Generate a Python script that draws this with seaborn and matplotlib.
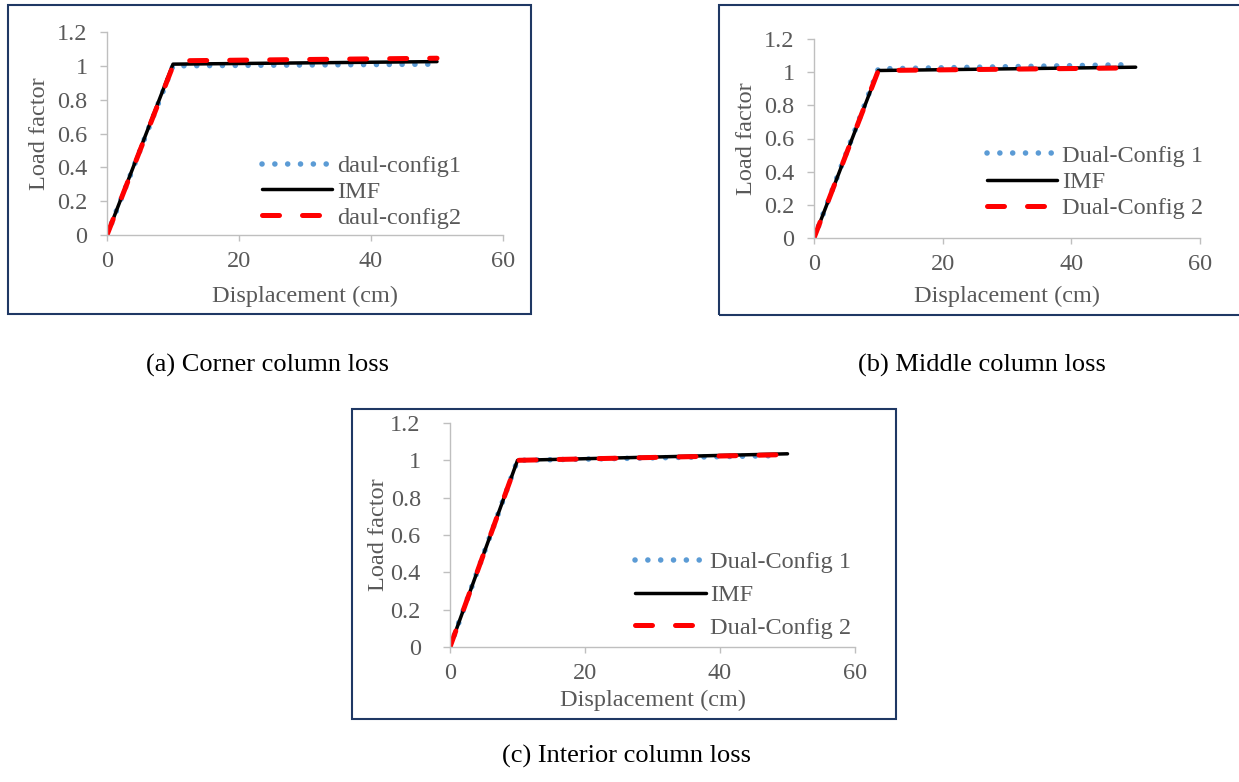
import numpy as np
import pandas as pd
import seaborn as sns
import matplotlib
import matplotlib.pyplot as plt
from matplotlib.patches import Rectangle
matplotlib.use('Agg')

# Panel (a) - corner column loss
a_cfg1_x = [0, 10, 50]
a_cfg1_y = [0, 1.0, 1.01]
a_imf_x = [0, 10, 50]
a_imf_y = [0, 1.01, 1.025]
a_cfg2_x = [0, 10, 11, 50]
a_cfg2_y = [0, 1.0, 1.03, 1.045]

# Panel (b) - middle column loss
b_cfg1_x = [0, 10, 49]
b_cfg1_y = [0, 1.02, 1.045]
b_imf_x = [0, 10, 50]
b_imf_y = [0, 1.01, 1.03]
b_cfg2_x = [0, 10, 48]
b_cfg2_y = [0, 1.01, 1.025]

# Panel (c) - interior column loss
c_cfg1_x = [0, 10, 48]
c_cfg1_y = [0, 1.0, 1.025]
c_imf_x = [0, 10, 50]
c_imf_y = [0, 1.0, 1.035]
c_cfg2_x = [0, 10, 49]
c_cfg2_y = [0, 1.0, 1.03]

labels_a = ["daul-config1", "IMF", "daul-config2"]
labels_bc = ["Dual-Config 1", "IMF", "Dual-Config 2"]
captions = ["(a) Corner column loss", "(b) Middle column loss", "(c) Interior column loss"]

x_ticks = [0, 20, 40, 60]
y_ticks = [0, 0.2, 0.4, 0.6, 0.8, 1, 1.2]
y_tick_labels = ["0", "0.2", "0.4", "0.6", "0.8", "1", "1.2"]

sns.set_style("ticks")
plt.rcParams['font.family'] = ['Liberation Serif', 'DejaVu Serif']

W, H = 1239, 782
fig = plt.figure(figsize=(W / 100, H / 100), dpi=100)

GREY_TXT = "#595959"
GREY_AX = "#bfbfbf"
NAVY = "#1f3864"
FS = 17.5


def px_axes(left, bottom, right, top):
    # pixel box (origin top-left) -> figure fraction rect
    return [left / W, 1 - bottom / H, (right - left) / W, (bottom - top) / H]


def draw_panel(rect, series, labels, leg_anchor, leg_spacing, ytick_pad, xlab_off, ylab_off):
    ax = fig.add_axes(rect)
    styles = [
        dict(color="#5b9bd5", lw=4.0, linestyle=(0, (0.01, 2.3)),
             dash_capstyle="round", solid_capstyle="round"),
        dict(color="black", lw=2.5, linestyle="-", solid_capstyle="round"),
        dict(color="#ff0000", lw=3.6, linestyle=(0, (3.4, 4.6)),
             dash_capstyle="round", solid_capstyle="round"),
    ]
    for (xs, ys), lab, st in zip(series, labels, styles):
        df = pd.DataFrame({"x": xs, "y": ys})
        sns.lineplot(data=df, x="x", y="y", ax=ax, label=lab, **st)

    ax.set_xlim(0, 60)
    ax.set_ylim(0, 1.2)
    ax.set_xticks(x_ticks)
    ax.set_yticks(y_ticks)
    ax.set_yticklabels(y_tick_labels)
    sns.despine(ax=ax)
    for s in ["left", "bottom"]:
        ax.spines[s].set_color(GREY_AX)
        ax.spines[s].set_linewidth(1.0)
    ax.tick_params(axis="x", colors=GREY_AX, labelcolor=GREY_TXT, labelsize=FS,
                   length=4.5, width=1.0, pad=7)
    ax.tick_params(axis="y", colors=GREY_AX, labelcolor=GREY_TXT, labelsize=FS,
                   length=5, width=1.0, pad=ytick_pad)
    ax.set_xlabel("Displacement (cm)", fontsize=FS, color=GREY_TXT)
    ax.set_ylabel("Load factor", fontsize=FS, color=GREY_TXT)

    wpx = rect[2] * W
    hpx = rect[3] * H
    ax.xaxis.set_label_coords(0.5, -xlab_off / hpx)
    ax.yaxis.set_label_coords(-ylab_off / wpx, 0.5)

    ax.legend(loc="center left", bbox_to_anchor=leg_anchor, frameon=False,
              fontsize=FS, handlelength=2.9, handletextpad=0.2,
              labelspacing=leg_spacing, borderpad=0, borderaxespad=0,
              labelcolor=GREY_TXT)
    return ax


# (a)
draw_panel(px_axes(107, 235, 503, 32),
           [(a_cfg1_x, a_cfg1_y), (a_imf_x, a_imf_y), (a_cfg2_x, a_cfg2_y)],
           labels_a, (0.391, 0.212), 0.16, 9, 51, 57)
# (b)
draw_panel(px_axes(814, 238, 1200, 39),
           [(b_cfg1_x, b_cfg1_y), (b_imf_x, b_imf_y), (b_cfg2_x, b_cfg2_y)],
           labels_bc, (0.448, 0.281), 0.17, 9, 48, 57)
# (c)
draw_panel(px_axes(450, 647, 855, 423),
           [(c_cfg1_x, c_cfg1_y), (c_imf_x, c_imf_y), (c_cfg2_x, c_cfg2_y)],
           labels_bc, (0.457, 0.232), 0.45, 16, 43, 61)

# chart area borders
for (l, t, r, b) in [(8, 5, 531, 314), (719, 5, 1242, 315), (352, 409, 896, 719)]:
    fig.add_artist(Rectangle((l / W, 1 - b / H), (r - l) / W, (b - t) / H,
                             transform=fig.transFigure, fill=False,
                             edgecolor=NAVY, lw=1.5))

for cap, (cx, cy) in zip(captions, [(267, 365), (982, 365), (626, 756)]):
    fig.text(cx / W, 1 - cy / H, cap, ha="center", va="center",
             fontsize=19, color="black")

plt.savefig("out.png", dpi=100)
